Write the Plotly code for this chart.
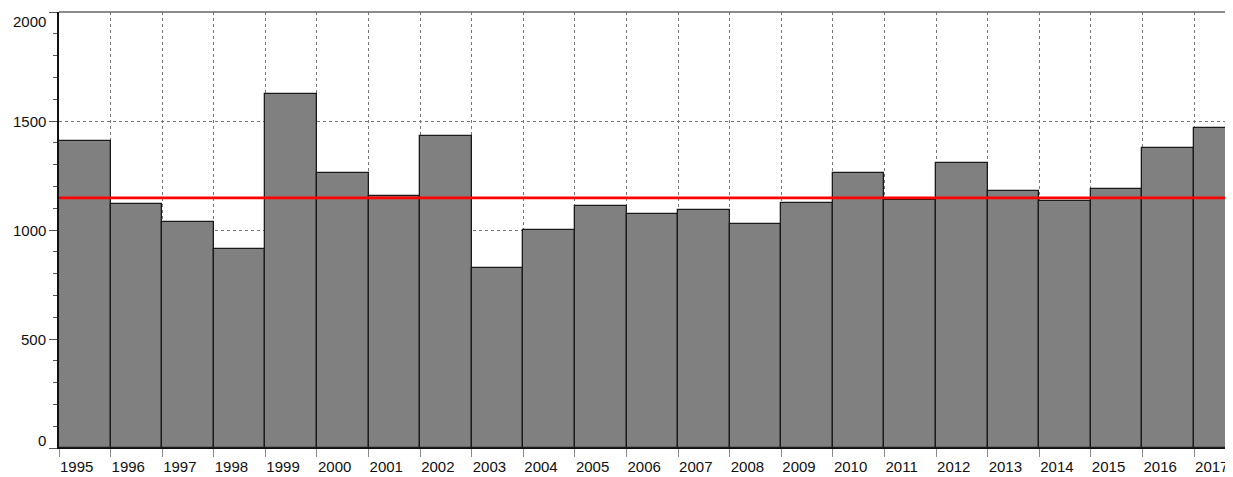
import plotly.graph_objects as go

years = list(range(1995, 2018))
values = [1410, 1118, 1035, 912, 1622, 1263, 1158, 1432, 825, 999, 1108, 1074,
          1092, 1027, 1126, 1262, 1136, 1307, 1180, 1131, 1190, 1374, 1468]
reference_level = 1147
y_ticks = [0, 500, 1000, 1500, 2000]
x_labels = [str(y) for y in years]

FONT = "Liberation Sans, Arial"

fig = go.Figure()
fig.add_trace(go.Bar(
    x=years, y=values, width=1, offset=0,
    marker=dict(color="#808080", line=dict(color="#1a1a1a", width=1.3)),
    showlegend=False,
))
fig.add_trace(go.Scatter(
    x=[years[0], years[-1] + 1], y=[reference_level, reference_level],
    mode="lines", line=dict(color="#ff0000", width=2.8), showlegend=False,
    hoverinfo="skip",
))

# y tick labels as annotations (ends nudged inward like the reference)
for v in y_ticks:
    shift = 0
    if v == y_ticks[0]:
        shift = 8
    elif v == y_ticks[-1]:
        shift = -9
    fig.add_annotation(
        x=0, xref="paper", y=v, yref="y", text=str(v), showarrow=False,
        xanchor="right", xshift=-11, yshift=shift,
        font=dict(family=FONT, size=15, color="#111111"),
    )

fig.update_layout(
    width=1225, height=469,
    margin=dict(l=51, r=0, t=4, b=29),
    paper_bgcolor="white", plot_bgcolor="white",
    bargap=0,
    font=dict(family=FONT, size=15, color="#111111"),
)
fig.update_xaxes(
    type="linear", range=[1995, 2017.755],
    tickmode="array", tickvals=years, ticktext=x_labels,
    ticklabelposition="outside right", ticklabelstandoff=5,
    ticks="outside", ticklen=8, tickcolor="#8a8a8a", tickwidth=1,
    showgrid=True, gridcolor="#777777", griddash="3px,3px", gridwidth=1,
    showline=True, linecolor="#111111", linewidth=1, mirror=False,
    zeroline=False, tickfont=dict(family=FONT, size=15, color="#111111"),
)
fig.update_yaxes(
    range=[0, 2000],
    tickmode="array", tickvals=y_ticks, showticklabels=False,
    ticks="outside", ticklen=8, tickcolor="#555555", tickwidth=1,
    minor=dict(dtick=100, ticks="outside", ticklen=4, tickcolor="#555555", showgrid=False),
    showgrid=True, gridcolor="#777777", griddash="3px,3px", gridwidth=1,
    showline=True, linecolor="#111111", linewidth=1.5,
    zeroline=False,
)
# top border line
fig.add_shape(type="line", xref="paper", yref="paper", x0=0, x1=1, y0=1, y1=1,
              line=dict(color="#666666", width=1.5))

fig.write_html("out.html")
